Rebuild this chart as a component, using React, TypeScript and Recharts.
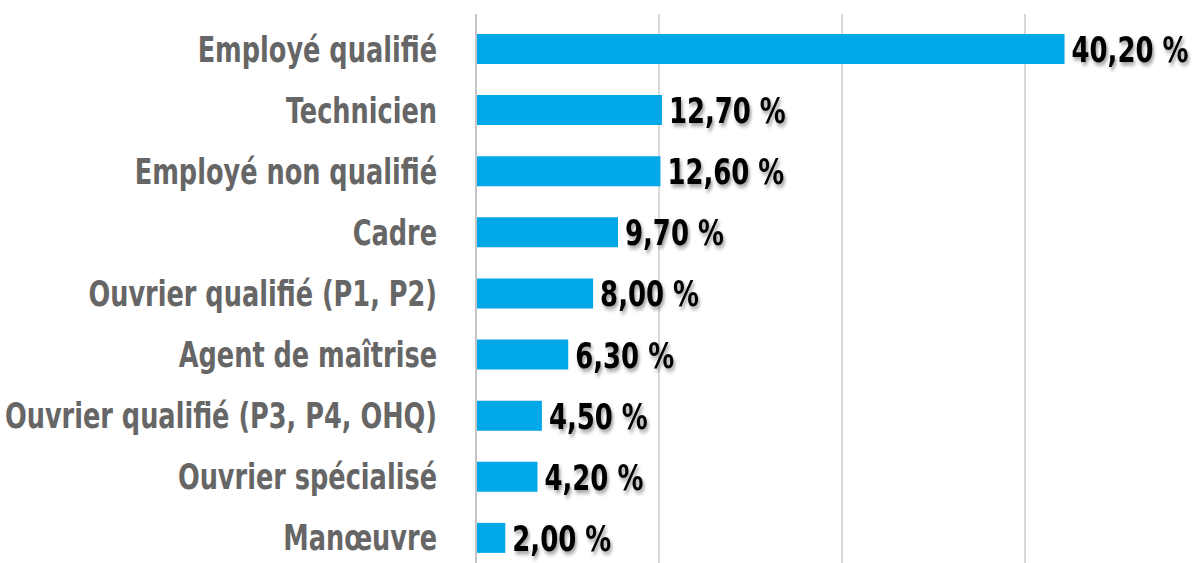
import React from 'react';
import { BarChart, Bar, XAxis, YAxis, CartesianGrid, LabelList } from 'recharts';

// categories, top to bottom
const categories = [
  'Employé qualifié',
  'Technicien',
  'Employé non qualifié',
  'Cadre',
  'Ouvrier qualifié (P1, P2)',
  'Agent de maîtrise',
  'Ouvrier qualifié (P3, P4, OHQ)',
  'Ouvrier spécialisé',
  'Manœuvre',
];

// share in %
const shares = [40.2, 12.7, 12.6, 9.7, 8.0, 6.3, 4.5, 4.2, 2.0];

const xTicks = [0, 12.5, 25, 37.5, 50];

const data = categories.map((name, i) => ({ name, value: shares[i] }));

const FONT = '"DejaVu Sans", sans-serif';
// squeeze the text a bit, the original uses a condensed face
const SQUEEZE = 0.79;

const formatPct = (v: number) => `${Number(v).toFixed(2).replace('.', ',')} %`;

const CategoryTick = (props: any) => {
  const { x, y, payload } = props;
  return (
    <g transform={`translate(${x},${y}) scale(${SQUEEZE},1)`}>
      <text
        x={0}
        y={0}
        dy="0.36em"
        textAnchor="end"
        fill="#666666"
        fontSize={36}
        fontWeight="bold"
        fontFamily={FONT}
        style={{ fontStretch: 'condensed' }}
      >
        {payload.value}
      </text>
    </g>
  );
};

const ValueLabel = (props: any) => {
  const x = Number(props.x) + Number(props.width) + 7;
  const y = Number(props.y) + Number(props.height) / 2;
  return (
    <g
      transform={`translate(${x},${y}) scale(0.8,1)`}
      style={{ filter: 'drop-shadow(2px 3px 2px rgba(0,0,0,0.4))' }}
    >
      <text
        x={0}
        y={0}
        dy="0.36em"
        textAnchor="start"
        fill="#000000"
        fontSize={36}
        fontWeight="bold"
        fontFamily={FONT}
        style={{ fontStretch: 'condensed' }}
      >
        {formatPct(props.value)}
      </text>
    </g>
  );
};

export default function App() {
  return (
    <div
      style={{
        position: 'absolute',
        left: 0,
        top: 0,
        width: 1199,
        height: 563,
        overflow: 'hidden',
        background: '#fff',
      }}
    >
      <BarChart
        width={1208}
        height={568}
        data={data}
        layout="vertical"
        margin={{ top: 14, right: 0, left: 0, bottom: 0 }}
      >
        <CartesianGrid horizontal={false} stroke="#d9d9d9" strokeWidth={2} />
        <XAxis type="number" dataKey="value" domain={[0, 50]} ticks={xTicks} hide />
        <YAxis
          type="category"
          dataKey="name"
          width={476}
          padding={{ top: 4, bottom: 0 }}
          axisLine={{ stroke: '#c4c4c4', strokeWidth: 2 }}
          tickLine={false}
          tickSize={0}
          tickMargin={39}
          interval={0}
          tick={<CategoryTick />}
        />
        <Bar dataKey="value" fill="#00a8e8" barSize={30} isAnimationActive={false}>
          <LabelList dataKey="value" content={<ValueLabel />} />
        </Bar>
      </BarChart>
    </div>
  );
}
